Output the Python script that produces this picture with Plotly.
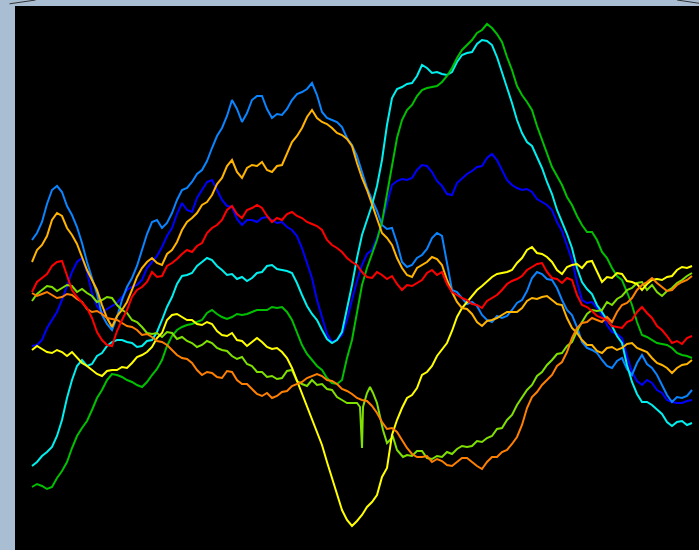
import plotly.graph_objects as go

# sampling steps (time index), one every 5 units
steps = list(range(0, 661, 5))

azure = [240, 233, 222, 204, 190, 186, 192, 206, 215, 227, 243, 262, 278, 294,
         315, 324, 330, 317, 300, 287, 278, 266, 250, 234, 222, 220, 228, 223,
         213, 200, 190, 188, 182, 174, 170, 161, 148, 136, 128, 116, 100, 109,
         122, 113, 100, 96, 96, 109, 118, 114, 115, 109, 100, 94, 92, 89, 83, 95,
         112, 118, 120, 122, 127, 138, 145, 156, 172, 188, 200, 211, 225, 229,
         228, 243, 262, 267, 265, 258, 255, 249, 238, 233, 236, 265, 290, 292,
         298, 304, 302, 306, 315, 320, 322, 316, 318, 316, 310, 303, 300, 291,
         278, 272, 274, 279, 280, 288, 300, 310, 315, 327, 342, 348, 350, 353,
         360, 366, 368, 361, 358, 369, 375, 363, 355, 364, 368, 375, 385, 395,
         402, 397, 398, 396, 390]

gold = [262, 250, 245, 236, 220, 213, 216, 228, 235, 244, 257, 270, 280, 290,
        305, 318, 327, 316, 310, 302, 290, 277, 268, 262, 258, 263, 265, 254,
        250, 242, 230, 222, 218, 213, 205, 202, 195, 184, 178, 166, 160, 172,
        178, 168, 165, 166, 162, 170, 172, 166, 165, 153, 142, 136, 128, 117,
        110, 118, 122, 124, 128, 133, 135, 139, 146, 163, 178, 190, 205, 220,
        233, 238, 245, 258, 268, 275, 277, 268, 265, 262, 257, 259, 265, 280,
        292, 302, 308, 309, 314, 322, 326, 321, 320, 318, 315, 312, 312, 312,
        308, 301, 298, 299, 297, 296, 300, 304, 305, 318, 328, 333, 340, 345,
        345, 351, 353, 348, 347, 350, 348, 344, 343, 348, 350, 352, 358, 363,
        365, 368, 373, 368, 365, 364, 360]

red = [292, 282, 278, 274, 266, 262, 261, 275, 290, 297, 302, 308, 318, 332,
       340, 345, 346, 331, 320, 310, 297, 290, 287, 282, 272, 277, 276, 266,
       263, 259, 254, 250, 252, 246, 243, 233, 228, 225, 220, 210, 206, 214,
       218, 210, 208, 205, 208, 216, 222, 218, 220, 214, 212, 216, 218, 222,
       224, 226, 230, 240, 245, 248, 252, 258, 262, 265, 272, 277, 278, 272,
       275, 279, 276, 284, 290, 285, 286, 283, 280, 273, 270, 275, 272, 284,
       292, 295, 298, 300, 304, 305, 308, 301, 298, 295, 290, 284, 281, 279,
       276, 270, 267, 264, 263, 272, 278, 279, 283, 278, 280, 295, 305, 307,
       311, 316, 318, 320, 326, 327, 328, 322, 320, 312, 307, 313, 318, 326,
       330, 336, 343, 341, 344, 338, 336]

blue = [346, 345, 340, 328, 320, 312, 300, 285, 272, 262, 258, 272, 293, 306,
        313, 309, 306, 303, 297, 290, 287, 285, 280, 268, 262, 256, 247, 236,
        228, 214, 203, 210, 212, 198, 190, 182, 180, 190, 200, 206, 207, 219,
        225, 220, 220, 222, 218, 217, 220, 223, 222, 227, 230, 236, 248, 262,
        278, 300, 318, 334, 342, 340, 335, 320, 300, 281, 265, 254, 250, 238,
        222, 204, 185, 181, 179, 180, 178, 170, 165, 166, 172, 181, 186, 194,
        195, 183, 178, 174, 171, 167, 166, 158, 154, 160, 170, 180, 185, 188,
        190, 189, 192, 199, 202, 205, 210, 222, 231, 245, 260, 282, 300, 303,
        302, 308, 315, 325, 332, 334, 338, 356, 372, 381, 385, 380, 383, 390,
        393, 400, 402, 403, 403, 401, 400]

cyan = [466, 462, 456, 452, 447, 436, 420, 398, 380, 366, 360, 366, 364, 356,
        353, 346, 342, 340, 340, 342, 343, 347, 346, 341, 340, 332, 320, 307,
        297, 284, 276, 275, 273, 266, 262, 258, 260, 266, 270, 275, 274, 279,
        277, 281, 278, 273, 272, 266, 265, 269, 270, 271, 273, 283, 295, 306,
        314, 320, 330, 339, 343, 340, 332, 310, 285, 258, 235, 220, 205, 186,
        160, 125, 98, 89, 87, 84, 83, 76, 65, 68, 73, 72, 74, 75, 72, 62,
        55, 53, 52, 44, 40, 41, 45, 57, 72, 88, 103, 120, 133, 142, 146, 157,
        168, 182, 194, 210, 222, 234, 248, 268, 282, 289, 294, 305, 312, 320,
        326, 336, 343, 365, 382, 394, 402, 402, 405, 410, 414, 422, 426, 422,
        421, 425, 423]

green = [487, 484, 486, 489, 487, 478, 471, 462, 448, 436, 428, 421, 410, 398,
         390, 380, 374, 375, 377, 380, 382, 385, 387, 382, 375, 369, 360, 346,
         336, 330, 327, 325, 324, 322, 320, 313, 310, 314, 317, 319, 317, 314,
         315, 314, 312, 310, 310, 310, 307, 308, 307, 312, 320, 333, 345, 354,
         360, 366, 370, 378, 383, 384, 380, 358, 340, 312, 285, 268, 255, 240,
         222, 195, 165, 138, 120, 110, 105, 96, 90, 88, 87, 86, 82, 76, 68, 58,
         50, 45, 40, 33, 30, 24, 28, 34, 42, 57, 70, 86, 95, 102, 110, 126,
         140, 152, 167, 176, 185, 197, 205, 216, 225, 232, 232, 240, 252, 258,
         268, 276, 280, 292, 305, 322, 335, 337, 340, 343, 344, 345, 348, 353,
         355, 356, 358]

# yellow-green has its own sampling, including a narrow downward spike
yg_steps = [0, 5, 10, 15, 20, 25, 30, 35, 40, 45, 50, 55, 60, 65, 70, 75, 80,
            85, 90, 95, 100, 105, 110, 115, 120, 125, 130, 135, 140, 145, 150,
            155, 160, 165, 170, 175, 180, 185, 190, 195, 200, 205, 210, 215,
            220, 225, 230, 235, 240, 245, 250, 255, 260, 265, 270, 275, 280,
            285, 290, 295, 300, 305, 310, 315, 320, 325, 328, 330, 331, 335,
            338, 341, 345, 348, 351, 355, 361, 365, 371, 375, 380, 385, 390,
            395, 400, 405, 410, 415, 420, 425, 430, 435, 440, 445, 450, 455,
            460, 465, 470, 475, 480, 485, 490, 495, 500, 505, 510, 515, 520,
            525, 530, 535, 540, 545, 550, 555, 560, 565, 570, 575, 580, 585,
            590, 595, 600, 605, 610, 615, 620, 625, 630, 635, 640, 645, 650,
            655, 660]
yellowgreen = [301, 294, 290, 286, 287, 291, 288, 285, 286, 292, 289, 293, 296,
               302, 300, 297, 298, 305, 310, 313, 320, 322, 327, 333, 334, 333,
               337, 332, 333, 339, 337, 341, 343, 347, 345, 341, 343, 348, 350,
               351, 356, 359, 357, 364, 366, 372, 372, 377, 376, 379, 378, 371,
               370, 381, 384, 386, 380, 385, 384, 389, 390, 397, 400, 403, 403,
               403, 407, 448, 407, 393, 387, 393, 403, 417, 430, 443, 437, 450,
               457, 455, 456, 451, 451, 458, 459, 456, 457, 452, 454, 449, 446,
               447, 446, 441, 442, 438, 436, 429, 428, 420, 415, 405, 398, 390,
               385, 376, 372, 365, 360, 354, 353, 346, 342, 331, 322, 314, 310,
               311, 310, 302, 305, 299, 296, 290, 288, 283, 282, 290, 285, 292,
               296, 291, 288, 283, 280, 276, 273]

yellow = [350, 346, 349, 352, 353, 350, 352, 356, 352, 358, 363, 366, 370, 374,
          376, 371, 370, 370, 367, 368, 363, 357, 355, 352, 347, 338, 333, 320,
          315, 314, 317, 320, 320, 324, 325, 322, 324, 331, 335, 336, 333, 340,
          341, 346, 342, 338, 342, 347, 349, 348, 352, 358, 368, 381, 395, 408,
          420, 432, 445, 462, 478, 493, 510, 520, 526, 521, 515, 507, 502, 495,
          477, 468, 435, 420, 408, 398, 395, 388, 375, 372, 366, 356, 350, 343,
          331, 317, 308, 302, 297, 290, 286, 281, 277, 274, 273, 272, 270, 263,
          258, 250, 247, 253, 254, 257, 262, 270, 274, 267, 265, 264, 268, 262,
          261, 272, 282, 277, 278, 273, 274, 281, 282, 284, 290, 284, 280, 279,
          280, 277, 276, 270, 267, 268, 266]

orange = [293, 296, 294, 292, 295, 298, 297, 294, 295, 299, 302, 309, 312, 311,
          314, 318, 319, 320, 323, 326, 327, 330, 335, 334, 337, 341, 342, 345,
          350, 355, 358, 359, 363, 370, 375, 372, 373, 377, 378, 371, 372, 380,
          384, 384, 389, 394, 396, 393, 398, 396, 392, 391, 386, 384, 382, 378,
          376, 374, 376, 380, 381, 384, 389, 391, 394, 398, 400, 401, 406, 413,
          422, 429, 428, 432, 440, 448, 454, 457, 457, 456, 462, 459, 461, 465,
          466, 462, 458, 458, 462, 466, 469, 462, 457, 457, 452, 450, 444, 437,
          425, 408, 397, 392, 385, 380, 375, 366, 362, 352, 338, 328, 323, 322,
          318, 320, 322, 317, 322, 312, 305, 303, 298, 290, 285, 282, 278, 283,
          287, 291, 290, 285, 282, 280, 276]

series = [
    ("blue", steps, blue, "#0000ff"),
    ("azure", steps, azure, "#0a84ff"),
    ("cyan", steps, cyan, "#00f0f0"),
    ("green", steps, green, "#00c000"),
    ("yellowgreen", yg_steps, yellowgreen, "#80e000"),
    ("yellow", steps, yellow, "#ffff00"),
    ("gold", steps, gold, "#ffb400"),
    ("orange", steps, orange, "#ff8000"),
    ("red", steps, red, "#ff0000"),
]

fig = go.Figure()
for name, xs, ys, col in series:
    n = min(len(xs), len(ys))
    fig.add_trace(go.Scatter(x=xs[:n], y=ys[:n], mode="lines", name=name,
                             line=dict(color=col, width=2)))

fig.update_layout(
    width=699, height=550,
    margin=dict(l=15, r=0, t=6, b=0),
    paper_bgcolor="#aabed3",
    plot_bgcolor="#000000",
    showlegend=False,
    xaxis=dict(range=[-17, 667], visible=False, fixedrange=True),
    yaxis=dict(range=[550, 6], visible=False, fixedrange=True),
    shapes=[
        dict(type="line", xref="paper", yref="paper",
             x0=-0.008, y0=1.004, x1=0.03, y1=1.011,
             line=dict(color="#333333", width=1)),
        dict(type="line", xref="paper", yref="paper",
             x0=0.968, y0=1.011, x1=1.0, y1=1.005,
             line=dict(color="#333333", width=1)),
    ],
)

fig.write_html(
    "out.html",
    config={"displayModeBar": False},
    post_script="document.body.style.margin='0';document.body.style.overflow='hidden';",
)
